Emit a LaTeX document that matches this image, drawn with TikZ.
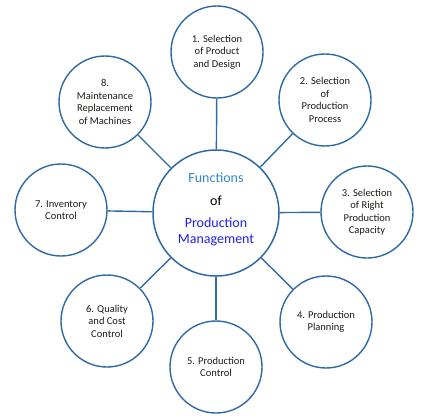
\documentclass[tikz,border=0pt]{standalone}
\usepackage{fontspec}
\setmainfont{Carlito}
\definecolor{ringblue}{HTML}{2E6AA6}
\definecolor{lightblue}{HTML}{2E86D0}
\definecolor{deepblue}{HTML}{2020F0}
\definecolor{txt}{HTML}{1E1A16}
\begin{document}
\begin{tikzpicture}[x=1pt,y=-1pt,
  hub/.style={circle,draw=ringblue,line width=1.5pt,minimum size=126pt,inner sep=0pt},
  item/.style={circle,draw=ringblue,line width=1.4pt,minimum size=92pt,inner sep=0pt,
    align=center,font=\fontsize{10.5}{12.5}\selectfont,text=txt},
  link/.style={draw=ringblue,line width=1.4pt}]
\useasboundingbox (0,0) rectangle (431,420);
\node[hub] (c) at (216,213) {};
\node[font=\fontsize{14}{16}\selectfont,text=lightblue] (t1) at (216,178) {Functions};
\node[font=\fontsize{14}{16}\selectfont,text=black] (t2) at (216,201) {of};
\node[font=\fontsize{14}{15.5}\selectfont,text=deepblue,align=center] (t3) at (216,232) {Production\\Management};
\node[item] (n1) at (217,52) {1. Selection\\of Product\\and Design};
\node[item] (n2) at (325,100) {2. Selection\\of\\Production\\Process};
\node[item] (n3) at (367,212) {3. Selection\\of Right\\Production\\Capacity};
\node[item] (n4) at (326,322) {4. Production\\Planning};
\node[item] (n5) at (216,367) {5. Production\\Control};
\node[item] (n6) at (107,321) {6. Quality\\and Cost\\Control};
\node[item] (n7) at (61,210) {7. Inventory\\Control};
\node[item] (n8) at (105,102) {8.\\Maintenance\\Replacement\\of Machines};
\foreach \n in {n1,n2,n3,n4,n5,n6,n7,n8}{\path[link] (c) -- (\n);}
\end{tikzpicture}
\end{document}
